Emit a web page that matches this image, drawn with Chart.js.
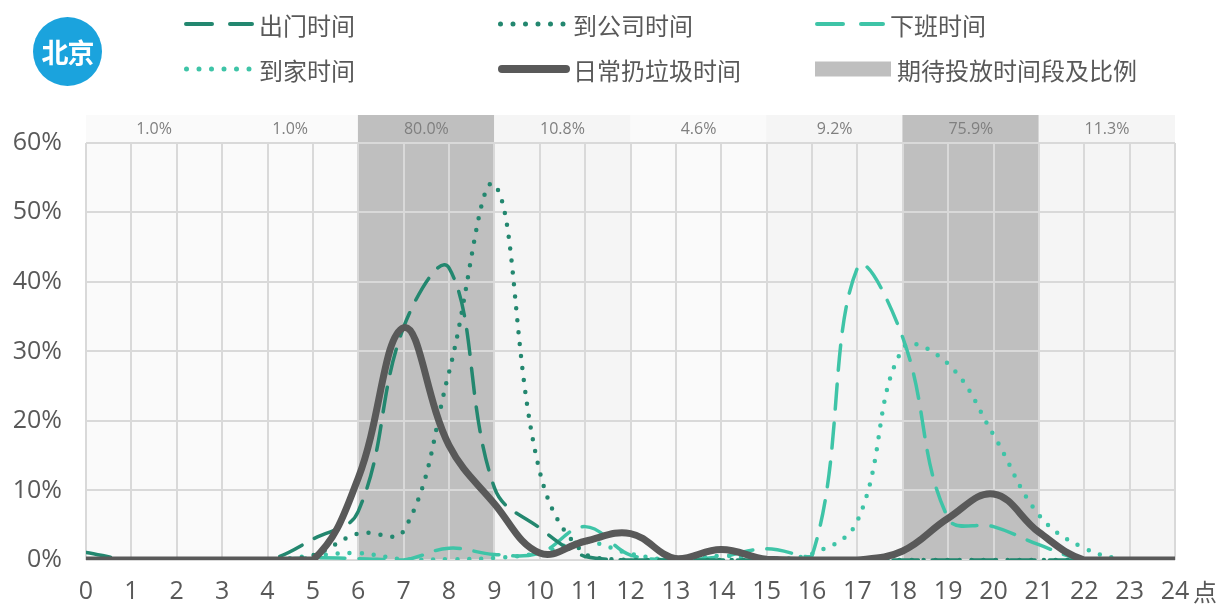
<!DOCTYPE html>
<html lang="zh-CN">
<head>
<meta charset="utf-8">
<script src="https://cdn.jsdelivr.net/npm/chart.js@4.4.1/dist/chart.umd.min.js"></script>
<style>
  html, body { margin: 0; padding: 0; background: #fff; }
  #wrap { position: relative; width: 1220px; height: 605px; overflow: hidden; }
  #chart { position: absolute; left: 0; top: 0; }
  .badge {
    position: absolute; left: 33px; top: 17px; width: 69px; height: 69px; border-radius: 50%;
    background: #1ba3dd; color: #fff; font: 700 27px "Noto Sans CJK SC", sans-serif;
    display: flex; align-items: center; justify-content: center; letter-spacing: -1px;
  }
  .legend-item {
    position: absolute; display: flex; align-items: center; height: 30px; line-height: 30px;
    font: 400 24px "Noto Sans CJK SC", sans-serif; color: #595959; white-space: nowrap;
  }
  .legend-item svg { flex: none; display: block; }
</style>
</head>
<body>
<div id="wrap">
  <canvas id="chart" width="1220" height="605"></canvas>
  <div class="badge">北京</div>
  <div id="legend"></div>
</div>
<script>
// Hours of the day on the x axis, percentage ticks on the y axis
const hours = [0, 1, 2, 3, 4, 5, 6, 7, 8, 9, 10, 11, 12, 13, 14, 15, 16, 17, 18, 19, 20, 21, 22, 23, 24];
const yTicks = [0, 10, 20, 30, 40, 50, 60];

// Three-hour slots and the share of people who would like to dispose trash in each
const slotStart = [0, 3, 6, 9, 12, 15, 18, 21];
const slotShare = [1.0, 1.0, 80.0, 10.8, 4.6, 9.2, 75.9, 11.3];

// Share of people (%) by hour
const leaveHome  = [1.1, 0, 0, 0, 0, 3.0, 7.0, 33.5, 42.0, 10.4, 4.6, 0.5, 0, 0, 0, 0, 0, 0, 0, 0, 0, 0, 0, 0, 0];   // 出门时间
const arriveWork = [0, 0, 0, 0, 0, 0.7, 3.8, 4.2, 27.0, 54.0, 12.7, 0.8, 0, 0, 0, 0, 0, 0, 0, 0, 0, 0, 0, 0, 0];     // 到公司时间
const offWork    = [0, 0, 0, 0, 0, 0.3, 0.2, 0, 1.7, 0.8, 1.0, 4.8, 0.7, 0, 0.5, 1.6, 0.6, 42.0, 32.0, 6.0, 4.8, 2.2, 0, 0, 0]; // 下班时间
const arriveHome = [0, 0, 0, 0, 0, 0.6, 1.0, 0.1, 0.1, 0.3, 1.0, 2.6, 0.9, 0, 0.6, 0.2, 0.9, 5.6, 30.4, 28.2, 18.0, 6.5, 1.7, 0, 0]; // 到家时间
const trashTime  = [0, 0, 0, 0, 0, 0, 11.8, 33.4, 16.5, 8.1, 1.0, 2.7, 3.8, 0.2, 1.5, 0.1, 0, 0, 1.3, 6.0, 9.5, 4.0, 0, 0, 0];      // 日常扔垃圾时间

const TEAL_DARK = '#23876f';
const TEAL_LIGHT = '#3ec4a7';
const GREY_LINE = '#595959';
const TEXT = '#595959';
const NUM_FONT = '"Open Sans", "Noto Sans CJK SC", sans-serif';
const slotWidth = slotStart[1] - slotStart[0];

function slotColor(share) {
  if (share >= 50) return '#bfbfbf';
  if (share >= 9) return '#f5f5f5';
  return '#fafafa';
}

const lineSets = [
  { label: '出门时间',       data: leaveHome,  borderColor: TEAL_DARK,  borderWidth: 3.5, borderDash: [25, 14], order: 2 },
  { label: '到公司时间',     data: arriveWork, borderColor: TEAL_DARK,  borderWidth: 4.5, borderDash: [0, 12],  order: 1 },
  { label: '下班时间',       data: offWork,    borderColor: TEAL_LIGHT, borderWidth: 3.5, borderDash: [25, 14], order: 4 },
  { label: '到家时间',       data: arriveHome, borderColor: TEAL_LIGHT, borderWidth: 4.5, borderDash: [0, 12],  order: 3 },
  { label: '日常扔垃圾时间', data: trashTime,  borderColor: GREY_LINE,  borderWidth: 7,   borderDash: [],       order: 0 }
].map(d => Object.assign({
  type: 'line', pointRadius: 0, pointHoverRadius: 0, tension: 0.4, fill: false,
  borderCapStyle: 'round', borderJoinStyle: 'round', backgroundColor: d.borderColor
}, d));

// Full-height column for each slot; the darker ones are the preferred disposal periods
const bandSet = {
  type: 'bar', label: '期待投放时间段及比例', yAxisID: 'yBand', order: 10,
  data: slotStart.map(s => ({ x: s + slotWidth / 2, y: 1 })),
  backgroundColor: slotShare.map(slotColor),
  borderWidth: 0, barThickness: 'flex', barPercentage: 1, categoryPercentage: 1
};

// Grid is painted over the slot columns but under the curves, plus the share strip on top
const gridAndSlots = {
  id: 'gridAndSlots',
  afterDatasetDraw(chart, args) {
    if (args.meta.type !== 'bar') return;
    const { ctx, chartArea } = chart;
    const x = chart.scales.x, y = chart.scales.y;
    const yTop = Math.round(y.getPixelForValue(yTicks[yTicks.length - 1]));
    const yBot = Math.round(y.getPixelForValue(0));
    ctx.save();
    ctx.strokeStyle = '#d9d9d9';
    ctx.lineWidth = 2;
    ctx.beginPath();
    yTicks.forEach(v => {
      const py = Math.round(y.getPixelForValue(v));
      ctx.moveTo(chartArea.left, py); ctx.lineTo(chartArea.right, py);
    });
    hours.forEach(h => {
      const px = Math.round(x.getPixelForValue(h));
      ctx.moveTo(px, yTop); ctx.lineTo(px, yBot);
    });
    ctx.stroke();
    ctx.fillStyle = '#7f7f7f';
    ctx.font = '16px ' + NUM_FONT;
    ctx.textAlign = 'center';
    ctx.textBaseline = 'middle';
    const cy = (chartArea.top + yTop) / 2;
    slotStart.forEach((s, i) => {
      ctx.fillText(slotShare[i].toFixed(1) + '%', x.getPixelForValue(s + slotWidth / 2), cy);
    });
    ctx.restore();
  },
  afterDraw(chart) {
    const { ctx } = chart;
    const x = chart.scales.x;
    ctx.save();
    ctx.fillStyle = TEXT;
    ctx.font = '24px "Noto Sans CJK SC", sans-serif';
    ctx.textAlign = 'center';
    ctx.textBaseline = 'middle';
    ctx.fillText('点', x.right + 30, x.top + 32);
    ctx.restore();
  }
};

const chart = new Chart(document.getElementById('chart'), {
  type: 'line',
  data: { labels: hours, datasets: [...lineSets, bandSet] },
  plugins: [gridAndSlots],
  options: {
    responsive: false,
    animation: false,
    events: [],
    devicePixelRatio: 1,
    layout: { padding: { left: 0, right: 45, top: 115, bottom: 0 } },
    plugins: { legend: { display: false }, tooltip: { enabled: false } },
    scales: {
      x: {
        type: 'linear', min: 0, max: 24, offset: false,
        grid: { display: false, drawTicks: false }, border: { display: false },
        ticks: { autoSkip: false, maxRotation: 0, padding: 17, color: TEXT, font: { family: NUM_FONT, size: 25 } },
        afterBuildTicks: s => { s.ticks = hours.map(v => ({ value: v })); },
        afterFit: s => { s.height = 45; }
      },
      y: {
        type: 'linear', min: 0, max: 64,
        grid: { display: false, drawTicks: false }, border: { display: false },
        ticks: { padding: 24, color: TEXT, font: { family: NUM_FONT, size: 25 }, callback: v => v + '%' },
        afterBuildTicks: s => { s.ticks = yTicks.map(v => ({ value: v })); },
        afterFit: s => { s.width = 86; }
      },
      yBand: { type: 'linear', axis: 'y', position: 'right', min: 0, max: 1, display: false }
    }
  }
});

// Legend laid out in three columns and two rows
const legendCols = [184, 498, 815];
const legendRows = [24, 69];
function sampleSvg(ds) {
  if (ds.type === 'bar') {
    return `<svg width="76" height="16" style="margin-right:6px"><rect x="0" y="0.5" width="76" height="15" fill="${ds.backgroundColor[2]}"/></svg>`;
  }
  let stroke = `stroke="${ds.borderColor}" stroke-linecap="round"`;
  if (!ds.borderDash.length) {
    return `<svg width="72" height="16" style="margin-right:3px"><line x1="4" y1="8" x2="68" y2="8" ${stroke} stroke-width="8"/></svg>`;
  }
  if (ds.borderDash[0] === 0) {
    return `<svg width="72" height="16" style="margin-right:3px"><line x1="2.5" y1="8" x2="66" y2="8" ${stroke} stroke-width="5" stroke-dasharray="0 12.5"/></svg>`;
  }
  return `<svg width="72" height="16" style="margin-right:3px"><line x1="2" y1="8" x2="68" y2="8" ${stroke} stroke-width="4" stroke-dasharray="26 18"/></svg>`;
}
const legendEl = document.getElementById('legend');
[...lineSets, bandSet].forEach((ds, i) => {
  const item = document.createElement('div');
  item.className = 'legend-item';
  item.style.left = legendCols[i % 3] + 'px';
  item.style.top = (legendRows[Math.floor(i / 3)] - 15) + 'px';
  item.innerHTML = sampleSvg(ds) + `<span>${ds.label}</span>`;
  legendEl.appendChild(item);
});
</script>
</body>
</html>
